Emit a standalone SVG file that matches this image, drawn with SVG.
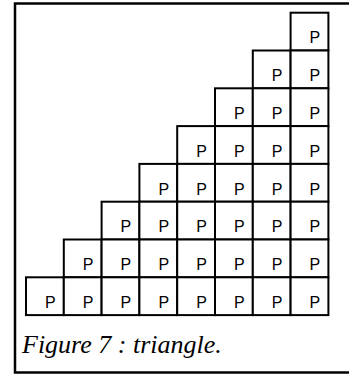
<svg xmlns="http://www.w3.org/2000/svg" width="349" height="374" viewBox="0 0 349 374">
<style>
.c rect{fill:#fff;stroke:#000;stroke-width:2}
.c text{font-family:"Liberation Sans",Arial,sans-serif;font-size:16px;fill:#000}
.cap{font-family:"Liberation Serif","Times New Roman",serif;font-style:italic;font-size:26px;fill:#000}
</style>
<rect width="349" height="374" fill="#fff"/>
<path d="M349,3.5 H15 V372.5 H349" fill="none" stroke="#000" stroke-width="2.5"/>
<g id="cells">
<g id="r0c7" class="c"><rect x="290.6" y="12.7" width="37.8" height="37.8"/><text x="309.6" y="43.3">P</text></g>
<g id="r1c6" class="c"><rect x="252.8" y="50.5" width="37.8" height="37.8"/><text x="271.8" y="81.1">P</text></g>
<g id="r1c7" class="c"><rect x="290.6" y="50.5" width="37.8" height="37.8"/><text x="309.6" y="81.1">P</text></g>
<g id="r2c5" class="c"><rect x="215" y="88.3" width="37.8" height="37.8"/><text x="234" y="118.9">P</text></g>
<g id="r2c6" class="c"><rect x="252.8" y="88.3" width="37.8" height="37.8"/><text x="271.8" y="118.9">P</text></g>
<g id="r2c7" class="c"><rect x="290.6" y="88.3" width="37.8" height="37.8"/><text x="309.6" y="118.9">P</text></g>
<g id="r3c4" class="c"><rect x="177.2" y="126.1" width="37.8" height="37.8"/><text x="196.2" y="156.7">P</text></g>
<g id="r3c5" class="c"><rect x="215" y="126.1" width="37.8" height="37.8"/><text x="234" y="156.7">P</text></g>
<g id="r3c6" class="c"><rect x="252.8" y="126.1" width="37.8" height="37.8"/><text x="271.8" y="156.7">P</text></g>
<g id="r3c7" class="c"><rect x="290.6" y="126.1" width="37.8" height="37.8"/><text x="309.6" y="156.7">P</text></g>
<g id="r4c3" class="c"><rect x="139.4" y="163.9" width="37.8" height="37.8"/><text x="158.4" y="194.5">P</text></g>
<g id="r4c4" class="c"><rect x="177.2" y="163.9" width="37.8" height="37.8"/><text x="196.2" y="194.5">P</text></g>
<g id="r4c5" class="c"><rect x="215" y="163.9" width="37.8" height="37.8"/><text x="234" y="194.5">P</text></g>
<g id="r4c6" class="c"><rect x="252.8" y="163.9" width="37.8" height="37.8"/><text x="271.8" y="194.5">P</text></g>
<g id="r4c7" class="c"><rect x="290.6" y="163.9" width="37.8" height="37.8"/><text x="309.6" y="194.5">P</text></g>
<g id="r5c2" class="c"><rect x="101.6" y="201.7" width="37.8" height="37.8"/><text x="120.6" y="232.3">P</text></g>
<g id="r5c3" class="c"><rect x="139.4" y="201.7" width="37.8" height="37.8"/><text x="158.4" y="232.3">P</text></g>
<g id="r5c4" class="c"><rect x="177.2" y="201.7" width="37.8" height="37.8"/><text x="196.2" y="232.3">P</text></g>
<g id="r5c5" class="c"><rect x="215" y="201.7" width="37.8" height="37.8"/><text x="234" y="232.3">P</text></g>
<g id="r5c6" class="c"><rect x="252.8" y="201.7" width="37.8" height="37.8"/><text x="271.8" y="232.3">P</text></g>
<g id="r5c7" class="c"><rect x="290.6" y="201.7" width="37.8" height="37.8"/><text x="309.6" y="232.3">P</text></g>
<g id="r6c1" class="c"><rect x="63.8" y="239.5" width="37.8" height="37.8"/><text x="82.8" y="270.1">P</text></g>
<g id="r6c2" class="c"><rect x="101.6" y="239.5" width="37.8" height="37.8"/><text x="120.6" y="270.1">P</text></g>
<g id="r6c3" class="c"><rect x="139.4" y="239.5" width="37.8" height="37.8"/><text x="158.4" y="270.1">P</text></g>
<g id="r6c4" class="c"><rect x="177.2" y="239.5" width="37.8" height="37.8"/><text x="196.2" y="270.1">P</text></g>
<g id="r6c5" class="c"><rect x="215" y="239.5" width="37.8" height="37.8"/><text x="234" y="270.1">P</text></g>
<g id="r6c6" class="c"><rect x="252.8" y="239.5" width="37.8" height="37.8"/><text x="271.8" y="270.1">P</text></g>
<g id="r6c7" class="c"><rect x="290.6" y="239.5" width="37.8" height="37.8"/><text x="309.6" y="270.1">P</text></g>
<g id="r7c0" class="c"><rect x="26" y="277.3" width="37.8" height="37.8"/><text x="45" y="307.9">P</text></g>
<g id="r7c1" class="c"><rect x="63.8" y="277.3" width="37.8" height="37.8"/><text x="82.8" y="307.9">P</text></g>
<g id="r7c2" class="c"><rect x="101.6" y="277.3" width="37.8" height="37.8"/><text x="120.6" y="307.9">P</text></g>
<g id="r7c3" class="c"><rect x="139.4" y="277.3" width="37.8" height="37.8"/><text x="158.4" y="307.9">P</text></g>
<g id="r7c4" class="c"><rect x="177.2" y="277.3" width="37.8" height="37.8"/><text x="196.2" y="307.9">P</text></g>
<g id="r7c5" class="c"><rect x="215" y="277.3" width="37.8" height="37.8"/><text x="234" y="307.9">P</text></g>
<g id="r7c6" class="c"><rect x="252.8" y="277.3" width="37.8" height="37.8"/><text x="271.8" y="307.9">P</text></g>
<g id="r7c7" class="c"><rect x="290.6" y="277.3" width="37.8" height="37.8"/><text x="309.6" y="307.9">P</text></g>
</g>
<g id="connectors"></g>
<text class="cap" x="22" y="353">Figure 7 : triangle.</text>
</svg>
